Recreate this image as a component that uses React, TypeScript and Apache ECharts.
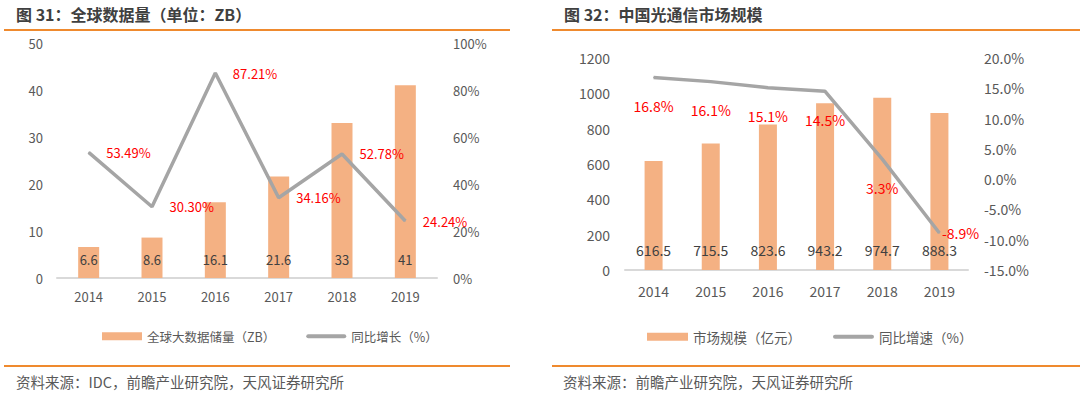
import React, { useEffect, useRef } from "react";
import * as echarts from "echarts";

const years = ["2014", "2015", "2016", "2017", "2018", "2019"];
const dataVolume = [6.6, 8.6, 16.1, 21.6, 33, 41];
const dataGrowth = [53.49, 30.3, 87.21, 34.16, 52.78, 24.24];
const marketSize = [616.5, 715.5, 823.6, 943.2, 974.7, 888.3];
const marketGrowth = [16.8, 16.1, 15.1, 14.5, 3.3, -8.9];
const marketGrowthLabelPos = ["bottom", "bottom", "bottom", "bottom", "bottom", "right"];

const title1 = "图 31：全球数据量（单位：ZB）";
const title2 = "图 32：中国光通信市场规模";
const source1 = "资料来源：IDC，前瞻产业研究院，天风证券研究所";
const source2 = "资料来源：前瞻产业研究院，天风证券研究所";
const legend1 = ["全球大数据储量（ZB）", "同比增长（%）"];
const legend2 = ["市场规模（亿元）", "同比增速（%）"];

const FONT = "'Noto Sans CJK SC', 'Noto Sans', sans-serif";
const ORANGE = "#EF8A2E";
const BAR = "#F4B183";
const GRAY = "#A5A5A5";
const TXT = "#595959";
const LINE_ICON = "path://M2,0 L38,0 A2,2 0 0 1 38,4 L2,4 A2,2 0 0 1 2,0 Z";

export default function App() {
  const ref = useRef<HTMLDivElement>(null);
  useEffect(() => {
    document.body.style.margin = "0";
    const chart = echarts.init(ref.current!, null, { renderer: "svg" });
    const axisLabel = { color: TXT, fontSize: 13, fontFamily: FONT };
    const axisLabel2 = { color: TXT, fontSize: 14, fontFamily: FONT };
    const option: any = {
      animation: false,
      textStyle: { fontFamily: FONT },
      grid: [
        { left: 57, right: 643, top: 43, bottom: 120 },
        { left: 625, right: 112, top: 58, bottom: 128 },
      ],
      xAxis: [
        {
          type: "category",
          gridIndex: 0,
          data: years,
          axisLine: { lineStyle: { color: "#D9D9D9", width: 2 } },
          axisTick: { show: false },
          axisLabel: { ...axisLabel, margin: 12 },
        },
        {
          type: "category",
          gridIndex: 1,
          data: years,
          axisLine: { lineStyle: { color: "#D9D9D9", width: 2 } },
          axisTick: { show: false },
          axisLabel: { ...axisLabel2, margin: 14 },
        },
      ],
      yAxis: [
        {
          type: "value",
          gridIndex: 0,
          min: 0,
          max: 50,
          interval: 10,
          splitLine: { show: false },
          axisLine: { show: false },
          axisLabel: { ...axisLabel, margin: 14, formatter: (v: number) => `${v}` },
        },
        {
          type: "value",
          gridIndex: 0,
          position: "right",
          min: 0,
          max: 100,
          interval: 20,
          splitLine: { show: false },
          axisLine: { show: false },
          axisLabel: { ...axisLabel, margin: 16, formatter: (v: number) => `${v}%` },
        },
        {
          type: "value",
          gridIndex: 1,
          min: 0,
          max: 1200,
          interval: 200,
          splitLine: { show: false },
          axisLine: { show: false },
          axisLabel: { ...axisLabel2, margin: 15, formatter: (v: number) => `${v}` },
        },
        {
          type: "value",
          gridIndex: 1,
          position: "right",
          min: -15,
          max: 20,
          interval: 5,
          splitLine: { show: false },
          axisLine: { show: false },
          axisLabel: { ...axisLabel2, margin: 16, formatter: (v: number) => `${v.toFixed(1)}%` },
        },
      ],
      legend: [
        {
          data: [
            { name: legend1[0], icon: "rect" },
            { name: legend1[1], icon: LINE_ICON },
          ],
          left: 97,
          top: 325,
          itemWidth: 40,
          itemHeight: 8,
          itemGap: 31,
          textStyle: { color: TXT, fontSize: 12.5, fontFamily: FONT },
        },
        {
          data: [
            { name: legend2[0], icon: "rect" },
            { name: legend2[1], icon: LINE_ICON },
          ],
          left: 642,
          top: 325,
          itemWidth: 41,
          itemHeight: 8,
          itemGap: 32,
          textStyle: { color: TXT, fontSize: 13.5, fontFamily: FONT },
        },
      ],
      series: [
        {
          name: legend1[0],
          type: "bar",
          xAxisIndex: 0,
          yAxisIndex: 0,
          data: dataVolume,
          barWidth: 21,
          itemStyle: { color: BAR },
          label: {
            show: true,
            position: "insideBottom",
            distance: 12,
            color: "#404040",
            fontSize: 13,
            fontFamily: FONT,
          },
        },
        {
          name: legend1[1],
          type: "line",
          xAxisIndex: 0,
          yAxisIndex: 1,
          data: dataGrowth,
          symbol: "circle",
          symbolSize: 1,
          lineStyle: { color: GRAY, width: 3.5 },
          itemStyle: { color: GRAY },
          label: {
            show: true,
            position: "right",
            distance: 17,
            color: "#FF0000",
            fontSize: 13,
            fontFamily: FONT,
            formatter: (p: any) => `${p.value.toFixed(2)}%`,
          },
        },
        {
          name: legend2[0],
          type: "bar",
          xAxisIndex: 1,
          yAxisIndex: 2,
          data: marketSize,
          barWidth: 18,
          itemStyle: { color: BAR },
          label: {
            show: true,
            position: "insideBottom",
            distance: 13,
            color: "#404040",
            fontSize: 14,
            fontFamily: FONT,
          },
        },
        {
          name: legend2[1],
          type: "line",
          xAxisIndex: 1,
          yAxisIndex: 3,
          data: marketGrowth.map((v, i) => ({
            value: v,
            label: {
              position: marketGrowthLabelPos[i],
              distance: marketGrowthLabelPos[i] === "right" ? 2 : 21,
            },
          })),
          symbol: "circle",
          symbolSize: 1,
          lineStyle: { color: GRAY, width: 3.5 },
          itemStyle: { color: GRAY },
          label: {
            show: true,
            color: "#FF0000",
            fontSize: 14,
            fontFamily: FONT,
            formatter: (p: any) => `${p.value.toFixed(1)}%`,
          },
        },
      ],
      graphic: [
        {
          type: "text",
          left: 16,
          top: 6,
          style: { text: title1, font: `bold 16px ${FONT}`, fill: "#404040" },
        },
        {
          type: "text",
          left: 564,
          top: 6,
          style: { text: title2, font: `bold 16px ${FONT}`, fill: "#404040" },
        },
        { type: "line", shape: { x1: 4, y1: 30, x2: 510, y2: 30 }, style: { stroke: ORANGE, lineWidth: 2 } },
        { type: "line", shape: { x1: 552, y1: 30, x2: 1080, y2: 30 }, style: { stroke: ORANGE, lineWidth: 2 } },
        { type: "line", shape: { x1: 4, y1: 366, x2: 510, y2: 366 }, style: { stroke: ORANGE, lineWidth: 2 } },
        { type: "line", shape: { x1: 552, y1: 366, x2: 1080, y2: 366 }, style: { stroke: ORANGE, lineWidth: 2 } },
        {
          type: "text",
          left: 16,
          top: 374,
          style: { text: source1, font: `14.5px ${FONT}`, fill: TXT },
        },
        {
          type: "text",
          left: 563,
          top: 374,
          style: { text: source2, font: `14.5px ${FONT}`, fill: TXT },
        },
      ],
    };
    chart.setOption(option);
    return () => chart.dispose();
  }, []);
  return <div ref={ref} style={{ width: 1080, height: 398 }} />;
}
